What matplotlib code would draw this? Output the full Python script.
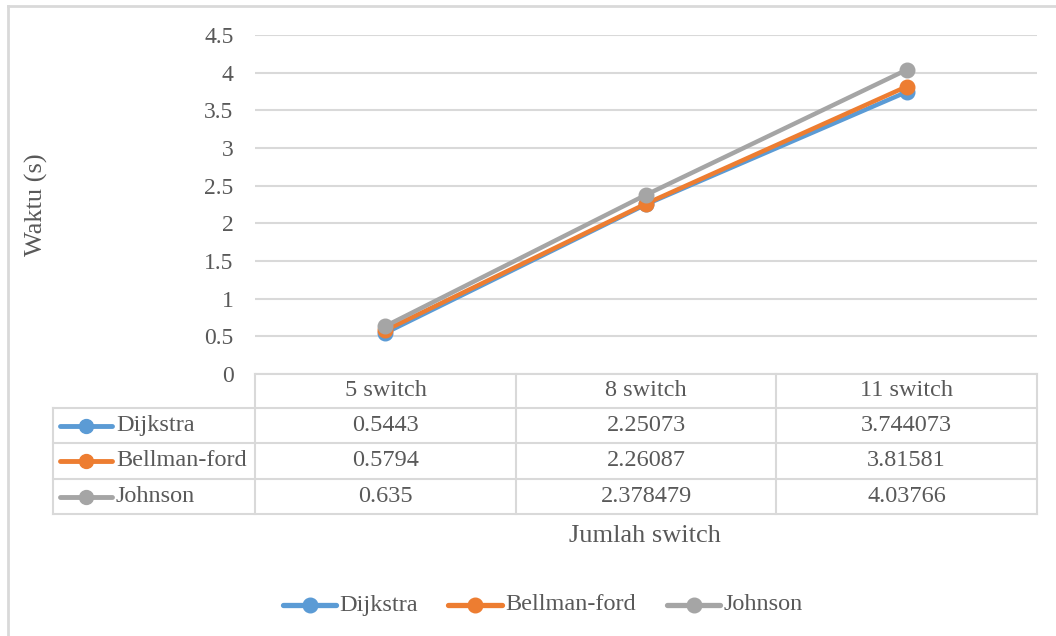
import matplotlib
matplotlib.use("Agg")
import matplotlib.pyplot as plt

# Data
categories = ["5 switch", "8 switch", "11 switch"]
series_names = ["Dijkstra", "Bellman-ford", "Johnson"]
dijkstra = [0.5443, 2.25073, 3.744073]
bellman_ford = [0.5794, 2.26087, 3.81581]
johnson = [0.635, 2.378479, 4.03766]
y_ticks = [0, 0.5, 1, 1.5, 2, 2.5, 3, 3.5, 4, 4.5]
y_tick_labels = ["0", "0.5", "1", "1.5", "2", "2.5", "3", "3.5", "4", "4.5"]

colors = ["#5B9BD5", "#ED7D31", "#A5A5A5"]
series = [dijkstra, bellman_ford, johnson]
text_color = "#595959"
grid_color = "#D9D9D9"

plt.rcParams["font.family"] = ["Liberation Serif", "DejaVu Serif"]

W, H = 1056, 636
fig = plt.figure(figsize=(W / 100, H / 100), dpi=100)
fig.patch.set_facecolor("white")

def fx(px):
    return px / W

def fy(py):
    return 1 - py / H

# Plot area (pixel layout)
left, right, top, bottom = 255, 1037, 35, 374
ax = fig.add_axes([fx(left), fy(bottom), fx(right - left), (bottom - top) / H])
ax.set_xlim(0, len(categories))
ax.set_ylim(0, 4.5)
ax.set_yticks(y_ticks)
ax.set_yticklabels(y_tick_labels)
ax.set_xticks([])
ax.tick_params(axis="y", length=0, pad=15.5, labelsize=17, labelcolor=text_color)
for s in ax.spines.values():
    s.set_visible(False)
ax.grid(axis="y", color=grid_color, linewidth=1.5)
ax.set_axisbelow(True)
ax.patch.set_alpha(0)

xs = [i + 0.5 for i in range(len(categories))]
for vals, c, name in zip(series, colors, series_names):
    ax.plot(xs, vals, color=c, linewidth=3.2, marker="o", markersize=10.5,
            label=name, solid_capstyle="round", clip_on=False, zorder=3)

# Overlay in pixel coordinates for the data table, frame, titles and legend
ov = fig.add_axes([0, 0, 1, 1])
ov.set_xlim(0, W)
ov.set_ylim(H, 0)
ov.axis("off")
ov.patch.set_alpha(0)

# outer chart frame
ov.plot([7.5, 7.5], [5.5, H], color=grid_color, linewidth=2)
ov.plot([7.5, W], [5.5, 5.5], color=grid_color, linewidth=2)

ov.text(36, (top + bottom) / 2, "Waktu (s)", rotation=90, ha="center", va="center",
        fontsize=19, color=text_color)

col_edges = [255, 516, 776, 1037]
row_edges = [374, 408, 443, 479, 514]
tab_left = 53
lw_t = 1.5

# table grid
ov.plot([col_edges[0], col_edges[-1]], [row_edges[0]] * 2, color=grid_color, lw=lw_t)
for r in row_edges[1:]:
    ov.plot([tab_left, col_edges[-1]], [r, r], color=grid_color, lw=lw_t)
for c in col_edges:
    ov.plot([c, c], [row_edges[0], row_edges[-1]], color=grid_color, lw=lw_t)
ov.plot([tab_left, tab_left], [row_edges[1], row_edges[-1]], color=grid_color, lw=lw_t)

fs = 17.5
for j, cat in enumerate(categories):
    cx = (col_edges[j] + col_edges[j + 1]) / 2
    cy = (row_edges[0] + row_edges[1]) / 2
    ov.text(cx, cy, cat, ha="center", va="center", fontsize=fs, color=text_color)

for i, (vals, c, name) in enumerate(zip(series, colors, series_names)):
    cy = (row_edges[i + 1] + row_edges[i + 2]) / 2
    ov.plot([60, 112], [cy, cy], color=c, lw=3.5, solid_capstyle="round")
    ov.plot([86], [cy], marker="o", markersize=10, color=c)
    ov.text(116, cy, name, ha="left", va="center", fontsize=fs, color=text_color)
    for j, v in enumerate(vals):
        cx = (col_edges[j] + col_edges[j + 1]) / 2
        ov.text(cx, cy, str(v), ha="center", va="center", fontsize=fs, color=text_color)

ov.text(645, 536, "Jumlah switch", ha="center", va="center", fontsize=19, color=text_color)

# Bottom legend
legend_x = [(283, 336), (448, 502), (667, 720)]
ly = 605
for (x0, x1), c, name in zip(legend_x, colors, series_names):
    ov.plot([x0, x1], [ly, ly], color=c, lw=3.8, solid_capstyle="round")
    ov.plot([(x0 + x1) / 2], [ly], marker="o", markersize=10.5, color=c)
    ov.text(x1 + 3, ly, name, ha="left", va="center", fontsize=17.5, color=text_color)

fig.savefig("out.png", dpi=100)
